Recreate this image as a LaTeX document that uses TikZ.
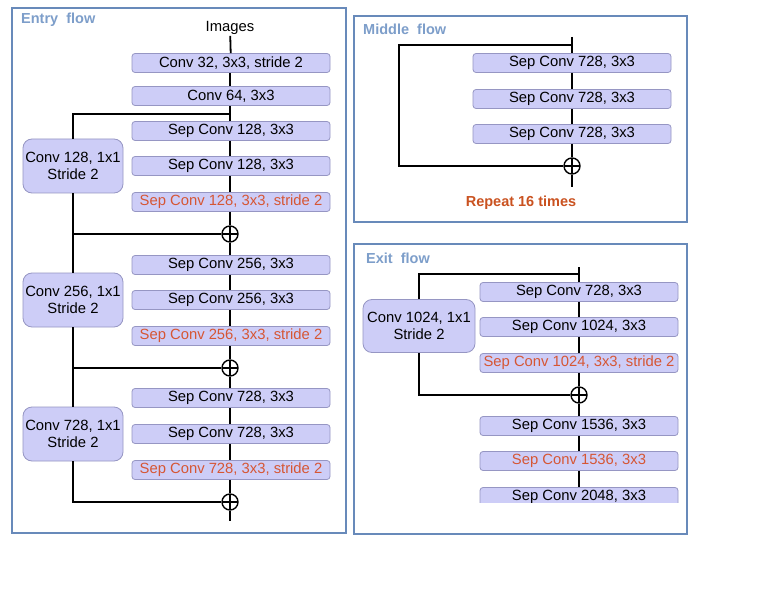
\documentclass[tikz,border=0pt]{standalone}
\usepackage{fontspec}
\setmainfont{Liberation Sans}
\definecolor{boxfill}{RGB}{205,205,247}
\definecolor{boxline}{RGB}{150,150,195}
\definecolor{redtxt}{RGB}{214,86,52}
\definecolor{reptxt}{RGB}{202,82,32}
\definecolor{framec}{RGB}{104,138,186}
\definecolor{titlec}{RGB}{125,158,202}
\tikzset{
  blk/.style={draw=boxline, fill=boxfill, rounded corners=3pt, minimum width=198pt, minimum height=19pt, inner sep=0pt, line width=0.8pt, font=\fontsize{14.8}{16}\selectfont},
  redblk/.style={blk, text=redtxt},
  sidebox/.style={draw=boxline, fill=boxfill, rounded corners=9pt, minimum width=100pt, minimum height=54pt, inner sep=0pt, align=center, line width=0.8pt, font=\fontsize{14.8}{17}\selectfont},
  plusn/.style={circle, draw, line width=1.4pt, minimum size=16pt, inner sep=0pt, fill=white,
    path picture={\draw[line width=1.4pt] (path picture bounding box.north) -- (path picture bounding box.south) (path picture bounding box.west) -- (path picture bounding box.east);}},
  conn/.style={line width=1.8pt},
  framebox/.style={draw=framec, line width=1.5pt},
  ttl/.style={text=titlec, anchor=west, inner sep=0pt, font=\bfseries\fontsize{14.5}{16}\selectfont},
}
\begin{document}
\begin{tikzpicture}[x=1pt,y=-1pt]
\useasboundingbox[fill=white] (0,0) rectangle (783,612);
% frames
\draw[framebox] (12,8) rectangle (346,533);
\draw[framebox] (354,16) rectangle (687,222);
\draw[framebox] (354,244) rectangle (687,534);
\node[ttl] (t1) at (21,20) {Entry\ \ flow};
\node[ttl] (t2) at (363,29) {Middle\ \ flow};
\node[ttl] (t3) at (366,258) {Exit\ \ flow};

% ---------------- Entry flow
\node[font=\fontsize{14.8}{16}\selectfont, inner sep=1pt] (img) at (230,28) {Images};
\node[blk] (c32) at (231,63) {Conv 32, 3x3, stride 2};
\node[blk] (c64) at (231,96) {Conv 64, 3x3};
\node[blk] (s1a) at (231,131) {Sep Conv 128, 3x3};
\node[blk] (s1b) at (231,166) {Sep Conv 128, 3x3};
\node[redblk] (s1c) at (231,202) {Sep Conv 128, 3x3, stride 2};
\node[plusn] (p1) at (230,234) {};
\node[blk] (s2a) at (231,265) {Sep Conv 256, 3x3};
\node[blk] (s2b) at (231,300) {Sep Conv 256, 3x3};
\node[redblk] (s2c) at (231,336) {Sep Conv 256, 3x3, stride 2};
\node[plusn] (p2) at (230,368) {};
\node[blk] (s3a) at (231,398) {Sep Conv 728, 3x3};
\node[blk] (s3b) at (231,434) {Sep Conv 728, 3x3};
\node[redblk] (s3c) at (231,470) {Sep Conv 728, 3x3, stride 2};
\node[plusn] (p3) at (230,502) {};
\coordinate (eend) at (230,521);
\coordinate (b1) at (230,114);
\node[sidebox] (k1) at (73,166) {Conv 128, 1x1\\Stride 2};
\node[sidebox] (k2) at (73,300) {Conv 256, 1x1\\Stride 2};
\node[sidebox] (k3) at (73,434) {Conv 728, 1x1\\Stride 2};

\draw[conn] (img) -- (c32);
\draw[conn] (c32.south -| img) -- (c64.north -| img);
\draw[conn] (c64.south -| img) -- (s1a.north -| img);
\draw[conn] (s1a.south -| img) -- (s1b.north -| img);
\draw[conn] (s1b.south -| img) -- (s1c.north -| img);
\draw[conn] (s1c.south -| img) -- (p1);
\draw[conn] (p1) -- (s2a.north -| img);
\draw[conn] (s2a.south -| img) -- (s2b.north -| img);
\draw[conn] (s2b.south -| img) -- (s2c.north -| img);
\draw[conn] (s2c.south -| img) -- (p2);
\draw[conn] (p2) -- (s3a.north -| img);
\draw[conn] (s3a.south -| img) -- (s3b.north -| img);
\draw[conn] (s3b.south -| img) -- (s3c.north -| img);
\draw[conn] (s3c.south -| img) -- (p3);
\draw[conn] (p3) -- (eend);
\draw[conn] (b1) -| (k1);
\draw[conn] (k1) |- (p1);
\draw[conn] (k1) -- (k2);
\draw[conn] (k2) |- (p2);
\draw[conn] (k2) -- (k3);
\draw[conn] (k3) |- (p3);

% ---------------- Middle flow
\coordinate (mtop) at (572,37);
\coordinate (mb) at (572,45);
\node[blk] (m1) at (572,63) {Sep Conv 728, 3x3};
\node[blk] (m2) at (572,99) {Sep Conv 728, 3x3};
\node[blk] (m3) at (572,134) {Sep Conv 728, 3x3};
\node[plusn] (mp) at (572,166) {};
\coordinate (mbot) at (572,187);
\coordinate (mc1) at (399,45);
\coordinate (mc2) at (399,166);
\draw[conn] (mtop) -- (m1);
\draw[conn] (m1) -- (m2);
\draw[conn] (m2) -- (m3);
\draw[conn] (m3) -- (mp);
\draw[conn] (mp) -- (mbot);
\draw[conn] (mb) -- (mc1) -- (mc2) -- (mp);
\node[text=reptxt, font=\bfseries\fontsize{14.5}{16}\selectfont] (rep) at (521,203) {Repeat 16 times};

% ---------------- Exit flow
\coordinate (etop) at (579,267);
\coordinate (eb) at (579,274);
\node[blk] (e1) at (579,292) {Sep Conv 728, 3x3};
\node[blk] (e2) at (579,327) {Sep Conv 1024, 3x3};
\node[redblk] (e3) at (579,363) {Sep Conv 1024, 3x3, stride 2};
\node[plusn] (ep) at (579,395) {};
\node[blk] (e4) at (579,426) {Sep Conv 1536, 3x3};
\node[redblk] (e5) at (579,461) {Sep Conv 1536, 3x3};
\node[sidebox, minimum width=112pt, minimum height=53pt] (ek) at (419,326) {Conv 1024, 1x1\\Stride 2};
\draw[conn] (etop) -- (e1);
\draw[conn] (e1) -- (e2);
\draw[conn] (e2) -- (e3);
\draw[conn] (e3) -- (ep);
\draw[conn] (ep) -- (e4);
\draw[conn] (e4) -- (e5);
\node[blk] (e6) at (579,497) {Sep Conv 2048, 3x3};
\draw[conn] (e5) -- (e6);
\draw[conn] (eb) -| (ek);
\draw[conn] (ek) |- (ep);
\fill[white] (476,503) rectangle (684,515);
\end{tikzpicture}
\end{document}
